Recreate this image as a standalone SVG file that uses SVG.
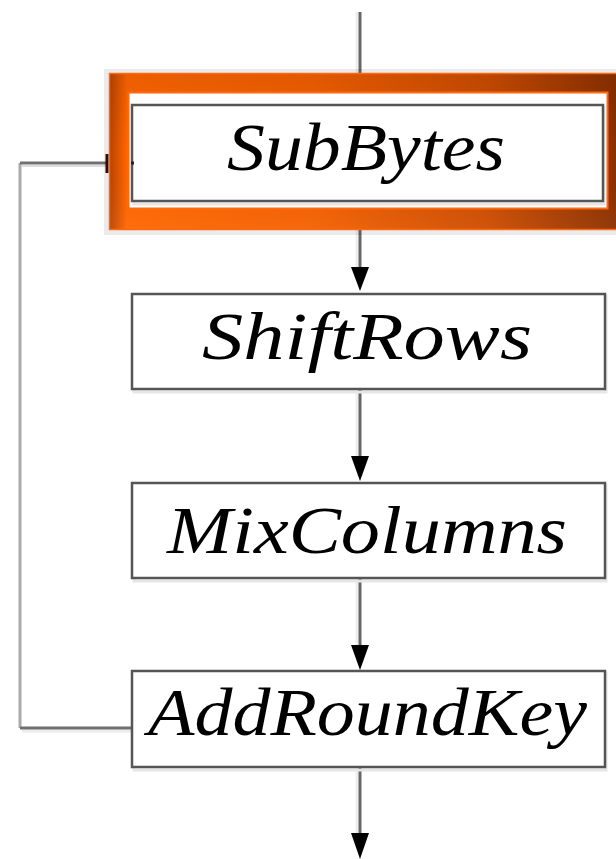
<svg xmlns="http://www.w3.org/2000/svg" width="616" height="859" viewBox="0 0 616 859">
  <style>
    .box { fill: #ffffff; stroke: #555555; stroke-width: 2.5; }
    .boxshadow { fill: none; stroke: #e6e6e6; stroke-width: 3; }
    .label { font-family: "Liberation Serif", "DejaVu Serif", serif; font-style: italic; font-size: 68px; fill: #000000; }
    .line { fill: none; stroke: #666666; stroke-width: 3; }
    .lineshadow { fill: none; stroke: #eeeeee; stroke-width: 3; }
    .head { fill: #000000; }
  </style>
  <defs>
    <linearGradient id="frameGrad" x1="0" y1="0" x2="1" y2="0">
      <stop offset="0" stop-color="#b84200"/>
      <stop offset="0.035" stop-color="#ff6600"/>
      <stop offset="0.4" stop-color="#f46000"/>
      <stop offset="0.75" stop-color="#cc4c00"/>
      <stop offset="1" stop-color="#8c3000"/>
    </linearGradient>
    <linearGradient id="frameShade" x1="0" y1="0" x2="0" y2="1">
      <stop offset="0" stop-color="#000000" stop-opacity="0.08"/>
      <stop offset="0.5" stop-color="#000000" stop-opacity="0"/>
      <stop offset="1" stop-color="#ffffff" stop-opacity="0.05"/>
    </linearGradient>
  </defs>

  <g id="connectors">
    <!-- top input line -->
    <line class="lineshadow" x1="357" y1="12" x2="357" y2="73"/>
    <line class="line" x1="360" y1="12" x2="360" y2="73"/>
    <polygon class="head" points="356,93 364,93 360,105"/>
    <!-- SubBytes -> ShiftRows -->
    <line class="line" x1="360" y1="201" x2="360" y2="208"/>
    <line class="lineshadow" x1="357" y1="230" x2="357" y2="268"/>
    <line class="line" x1="360" y1="230" x2="360" y2="270"/>
    <polygon class="head" points="351,267 369,267 360,291"/>
    <!-- ShiftRows -> MixColumns -->
    <line class="lineshadow" x1="357" y1="391" x2="357" y2="457"/>
    <line class="line" x1="360" y1="389" x2="360" y2="460"/>
    <polygon class="head" points="351,456 369,456 360,481"/>
    <!-- MixColumns -> AddRoundKey -->
    <line class="lineshadow" x1="357" y1="580" x2="357" y2="646"/>
    <line class="line" x1="360" y1="578" x2="360" y2="648"/>
    <polygon class="head" points="351,645 369,645 360,670"/>
    <!-- AddRoundKey -> output -->
    <line class="lineshadow" x1="357" y1="769" x2="357" y2="834"/>
    <line class="line" x1="360" y1="767" x2="360" y2="836"/>
    <polygon class="head" points="351,833 369,833 360,859"/>
    <!-- feedback loop -->
    <polyline fill="none" stroke="#ececec" stroke-width="3" points="131,731 22,731"/>
    <polyline fill="none" stroke="#aaaaaa" stroke-width="3" points="20,728 20,163"/>
    <polyline fill="none" stroke="#707070" stroke-width="3" points="131,728 20,728"/>
    <polyline fill="none" stroke="#707070" stroke-width="3" points="20,163 108,163"/>
    <polyline fill="none" stroke="#dddddd" stroke-width="2" points="22,166 106,166"/>
    <rect x="105.5" y="154" width="3" height="19" fill="#3a0a00"/>
  </g>

  <g id="subbytes">
    <rect x="104" y="69" width="516" height="166" fill="#000000" opacity="0.08"/>
    <path d="M109,73 H616 V230 H109 Z M129,93 V208 H607 V93 Z" fill="url(#frameGrad)" fill-rule="evenodd"/>
    <path d="M109,73 H616 V230 H109 Z M129,93 V208 H607 V93 Z" fill="url(#frameShade)" fill-rule="evenodd"/>
    <rect x="109.5" y="73.5" width="510" height="156" fill="none" stroke="#ff6a10" stroke-width="1.5"/>
    <rect x="128.5" y="92.5" width="479" height="116" fill="#ffffff" stroke="#ff6a10" stroke-width="2"/>
    <rect class="boxshadow" x="134" y="107" width="470" height="97"/>
    <rect class="box" x="132" y="105" width="471" height="96"/>
    <rect x="131" y="161.5" width="3" height="3" fill="#222222"/>
    <text class="label" x="227" y="170" textLength="278" lengthAdjust="spacingAndGlyphs">SubBytes</text>
  </g>

  <g id="shiftrows">
    <rect class="boxshadow" x="134" y="296" width="472" height="96"/>
    <rect class="box" x="132" y="294" width="473" height="95"/>
    <text class="label" x="202" y="359" textLength="330" lengthAdjust="spacingAndGlyphs">ShiftRows</text>
  </g>

  <g id="mixcolumns">
    <rect class="boxshadow" x="134" y="485" width="472" height="96"/>
    <rect class="box" x="132" y="483" width="473" height="95"/>
    <text class="label" x="167" y="553" textLength="400" lengthAdjust="spacingAndGlyphs">MixColumns</text>
  </g>

  <g id="addroundkey">
    <rect class="boxshadow" x="134" y="673" width="472" height="97"/>
    <rect class="box" x="132" y="671" width="473" height="96"/>
    <text class="label" x="148" y="735" textLength="439" lengthAdjust="spacingAndGlyphs">AddRoundKey</text>
  </g>
</svg>
